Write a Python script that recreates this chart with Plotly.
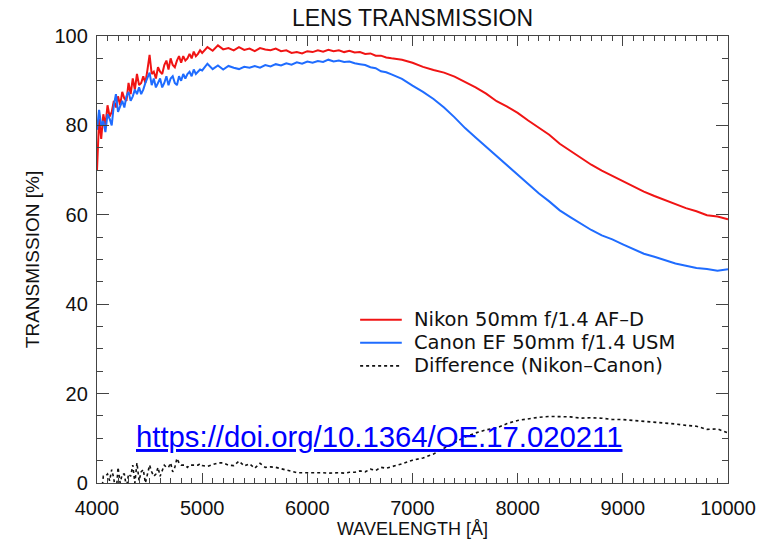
import plotly.graph_objects as go

# ---------------- data ----------------
wl_blue_region = [4000, 4020, 4040, 4060, 4080, 4100, 4120, 4140, 4160, 4180,
                  4200, 4220, 4240, 4260, 4280, 4300, 4320, 4340, 4360, 4380,
                  4400, 4420, 4440, 4460, 4480, 4500, 4520, 4540, 4560, 4580,
                  4600, 4620, 4640, 4660, 4680, 4700, 4720, 4740, 4760, 4780,
                  4800, 4820, 4840, 4860, 4880, 4900, 4920, 4940, 4960, 4980]
wl_mid_region = [5000, 5050, 5100, 5150, 5200, 5250, 5300, 5350, 5400, 5450,
                 5500, 5550, 5600, 5650, 5700, 5750, 5800, 5850, 5900, 5950,
                 6000, 6050, 6100, 6150, 6200, 6250, 6300, 6350, 6400, 6450,
                 6500, 6550, 6600, 6650, 6700, 6750, 6800]
wl_red_region = [6900, 7000, 7100, 7200, 7300, 7400, 7500, 7600, 7700, 7800,
                 7900, 8000, 8100, 8200, 8300, 8400, 8500, 8600, 8700, 8800,
                 8900, 9000, 9100, 9200, 9300, 9400, 9500, 9600, 9700, 9800,
                 9900, 10000]
wavelength = wl_blue_region + wl_mid_region + wl_red_region

nikon = [70.0, 81.5, 77.0, 82.5, 80.0, 84.5, 82.0, 83.0, 85.5, 84.0,
         86.5, 84.5, 87.5, 86.0, 85.5, 89.5, 87.0, 90.5, 88.0, 91.5,
         89.0, 89.5, 91.0, 89.5, 92.5, 95.8, 91.5, 92.0, 90.5, 93.0,
         92.0, 91.5, 93.5, 94.5, 92.5, 95.0, 93.5, 93.0, 94.5, 95.5,
         94.0, 95.5, 94.5, 95.0, 96.0, 95.0, 96.5, 95.5, 96.0, 96.8,
         # 5000 - 6800
         96.2, 97.5, 96.7, 97.9, 97.0, 97.3, 96.8, 97.5, 96.9, 97.2,
         96.6, 97.3, 97.0, 96.8, 97.2, 96.6, 96.8, 96.2, 96.4, 96.1,
         96.6, 96.4, 96.8, 96.5, 96.9, 96.6, 96.8, 96.4, 96.7, 96.3,
         96.4, 96.0, 96.1, 95.6, 95.6, 95.2, 95.0,
         # 6900 - 10000
         94.7, 94.0, 93.1, 92.4, 91.8, 90.9, 89.7, 88.5, 87.1, 85.4,
         84.2, 82.8, 81.1, 79.5, 77.9, 75.9, 74.3, 72.6, 71.2, 69.9,
         68.7, 67.6, 66.3, 65.2, 64.2, 63.3, 62.3, 61.5, 60.8, 59.9,
         59.6, 59.0]

canon = [79.0, 83.5, 80.0, 81.0, 78.5, 82.5, 81.5, 80.0, 84.5, 87.0,
         83.0, 84.5, 85.5, 84.0, 86.5, 87.5, 85.5, 86.5, 88.0, 87.0,
         88.5, 87.0, 88.0, 89.5, 90.5, 91.8, 89.0, 90.5, 88.5, 89.5,
         90.5, 88.5, 89.5, 91.0, 89.0, 90.5, 91.0, 89.5, 89.0, 91.0,
         90.0, 91.5, 90.5, 91.5, 92.0, 91.0, 92.5, 91.5, 92.0, 92.5,
         # 5000 - 6800
         92.3, 93.8, 92.6, 93.4, 92.5, 93.3, 92.9, 92.6, 93.1, 92.9,
         93.3, 92.9, 93.5, 93.2, 93.7, 93.4, 93.9, 93.6, 94.1, 93.8,
         94.3, 94.0, 94.4, 94.2, 94.7, 94.3, 94.5, 94.2, 94.3, 93.9,
         93.7, 93.5, 93.0, 92.8, 92.1, 91.9, 91.4,
         # 6900 - 10000
         90.4, 88.9, 87.5, 85.9, 84.0, 81.8, 79.4, 77.3, 75.2, 73.1,
         70.9, 68.8, 66.7, 64.8, 63.0, 61.0, 59.5, 58.1, 56.6, 55.4,
         54.5, 53.4, 52.3, 51.3, 50.6, 49.8, 49.1, 48.6, 48.1, 47.9,
         47.5, 47.8]

difference = [n - c for n, c in zip(nikon, canon)]

x_ticks = [4000, 5000, 6000, 7000, 8000, 9000, 10000]
y_ticks = [0, 20, 40, 60, 80, 100]

title_text = "LENS TRANSMISSION"
x_title = "WAVELENGTH [Å]"
y_title = "TRANSMISSION [%]"
names = ["Nikon 50mm f/1.4 AF\u2013D", "Canon EF 50mm f/1.4 USM",
         "Difference (Nikon\u2013Canon)"]
colors = ["#f01414", "#1f6cff", "#111111"]
widths = [2, 2, 1.6]
dashes = ["solid", "solid", "dot"]
series = [nikon, canon, difference]
doi = "https://doi.org/10.1364/OE.17.020211"

# ---------------- figure ----------------
fig = go.Figure()
for name, ys, col, w, d in zip(names, series, colors, widths, dashes):
    fig.add_trace(go.Scatter(x=wavelength, y=ys, mode="lines", name=name,
                             showlegend=False,
                             line=dict(color=col, width=w, dash=d)))

axis_common = dict(showline=True, linecolor="#444444", linewidth=1.3,
                   mirror="ticks", ticks="inside", tickcolor="#444444",
                   showgrid=False, zeroline=False,
                   tickfont=dict(family="Liberation Sans", size=20, color="#111111"))

fig.update_xaxes(range=[4000, 10000], tickvals=x_ticks, tickformat="d",
                 ticklen=10, tickwidth=1.2, ticklabelstandoff=7,
                 minor=dict(ticks="inside", dtick=100, ticklen=5, tickcolor="#444444", tickwidth=1),
                 title=dict(text=x_title, standoff=4,
                            font=dict(family="Liberation Sans", size=18, color="#111111")),
                 **axis_common)
fig.update_yaxes(range=[0, 100], tickvals=y_ticks, ticklen=12, tickwidth=1.2,
                 minor=dict(ticks="inside", dtick=5, ticklen=6, tickcolor="#444444", tickwidth=1),
                 ticklabelstandoff=4,
                 title=dict(text=y_title, standoff=9,
                            font=dict(family="Liberation Sans", size=19, color="#111111")),
                 **axis_common)

# legend drawn as key lines + labels (paper coordinates of the plot area)
legend_x0, legend_x1, legend_text_x = 0.417, 0.483, 0.499
legend_rows = [0.365, 0.314, 0.262]
for name, col, w, d, yy in zip(names, colors, widths, dashes, legend_rows):
    fig.add_shape(type="line", xref="paper", yref="paper",
                  x0=legend_x0, x1=legend_x1, y0=yy, y1=yy,
                  line=dict(color=col, width=w, dash=d))
    fig.add_annotation(text=name, xref="paper", yref="paper",
                       x=legend_text_x, y=yy, xanchor="left", yanchor="middle",
                       showarrow=False,
                       font=dict(family="DejaVu Sans", size=19.5, color="#111111"))

fig.add_annotation(text="<u>" + doi + "</u>", xref="paper", yref="paper",
                   x=0.447, y=0.105, xanchor="center", yanchor="middle",
                   showarrow=False,
                   font=dict(family="Liberation Sans", size=29.3, color="#0000ff"))

fig.update_layout(
    width=769, height=542,
    margin=dict(l=97, r=41, t=36, b=59, autoexpand=False),
    paper_bgcolor="white", plot_bgcolor="white",
    title=dict(text=title_text, x=0.5, xref="paper", xanchor="center",
               y=0.966, yref="container", yanchor="middle",
               font=dict(family="Liberation Sans", size=23, color="#111111")),
    showlegend=False,
)

# remove the default 8px page margin so the figure fills the window exactly
fig.write_html("out.html",
               config={"displayModeBar": False},
               post_script="document.body.style.margin='0px';")
